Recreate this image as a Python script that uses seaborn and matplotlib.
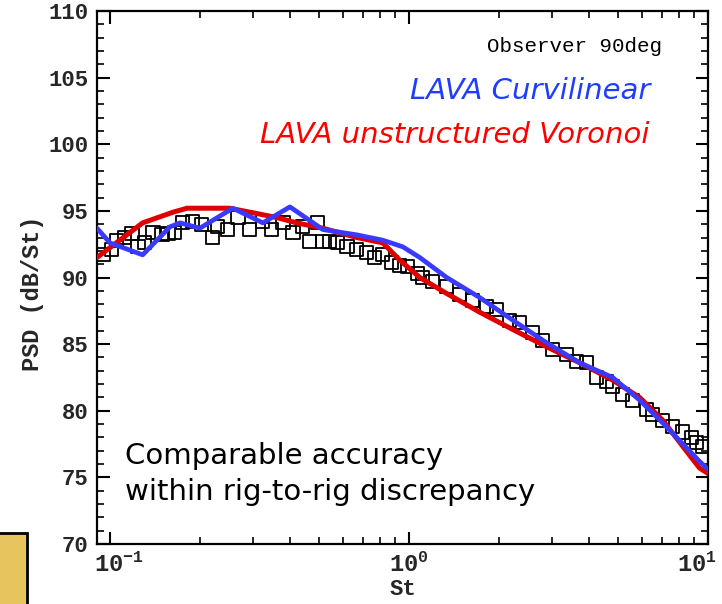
import numpy as np
import pandas as pd
import matplotlib
matplotlib.use("Agg")
import matplotlib.pyplot as plt
from matplotlib.patches import Rectangle
from matplotlib.transforms import ScaledTranslation
from matplotlib.ticker import LogLocator, MultipleLocator, NullFormatter, FixedLocator
import seaborn as sns

# Measured spectrum (squares)
exp_st = [0.0946, 0.1013, 0.1052, 0.1119, 0.1183, 0.1239, 0.1306, 0.139, 0.149, 0.156,
          0.1645, 0.175, 0.189, 0.2026, 0.2204, 0.2291, 0.2475, 0.2675, 0.2931, 0.3242,
          0.3474, 0.3784, 0.4087, 0.441, 0.4654, 0.4951, 0.5145, 0.543, 0.5777, 0.6194,
          0.6686, 0.7223, 0.7674, 0.8166, 0.8752, 0.9311, 0.9904, 1.069, 1.111, 1.200,
          1.336, 1.477, 1.633, 1.816, 1.962, 2.171, 2.345, 2.592, 2.798, 3.022,
          3.366, 3.636, 3.927, 4.24, 4.579, 4.796, 5.183, 5.6, 6.237, 6.534,
          7.057, 7.623, 8.229, 8.818, 9.169, 9.601]
exp_psd = [91.7, 92.1, 92.8, 93.0, 93.3, 92.3, 92.6, 93.4, 93.2, 93.3,
           93.4, 94.1, 94.2, 94.0, 93.0, 93.8, 93.6, 94.5, 93.6, 94.2,
           93.6, 94.1, 93.4, 93.8, 92.7, 94.1, 92.7, 92.7, 92.6, 92.3,
           92.1, 91.9, 91.5, 91.7, 91.1, 90.9, 90.8, 90.3, 90.0, 89.7,
           89.3, 88.7, 88.3, 87.8, 87.6, 86.8, 86.6, 85.9, 85.3, 84.6,
           84.2, 83.7, 83.6, 82.5, 82.2, 81.8, 81.2, 80.8, 80.1, 79.7,
           79.3, 78.8, 78.4, 78.0, 77.6, 77.3]

# LAVA curvilinear grid
curv_st = [0.0903, 0.0998, 0.1284, 0.1584, 0.1712, 0.1995, 0.2572, 0.3242, 0.3993, 0.5145,
           0.6686, 0.8166, 0.9529, 1.086, 1.336, 1.722, 2.222, 2.886, 3.722, 4.796,
           5.906, 7.047, 9.37, 10.0]
curv_psd = [93.7, 92.6, 91.7, 93.8, 94.1, 93.7, 95.2, 94.1, 95.3, 93.6,
            93.2, 92.8, 92.3, 91.5, 90.0, 88.5, 86.8, 85.1, 83.6, 82.5,
            80.8, 79.1, 76.2, 75.6]

# LAVA unstructured Voronoi grid
vor_st = [0.0903, 0.1284, 0.1622, 0.1807, 0.2512, 0.3095, 0.3609, 0.4207, 0.5145, 0.6686,
          0.8166, 0.9311, 1.086, 1.336, 1.722, 2.222, 2.886, 3.722, 4.796, 5.906,
          7.047, 9.37, 10.0]
vor_psd = [91.5, 94.1, 94.9, 95.2, 95.2, 94.8, 94.5, 94.1, 93.7, 93.0,
           92.6, 91.3, 90.0, 88.8, 87.4, 86.1, 84.8, 83.6, 82.3, 81.0,
           79.3, 75.7, 75.3]

yticks = [70, 75, 80, 85, 90, 95, 100, 105, 110]
xticks = [0.1, 1, 10]
xtick_labels = [r"$\mathregular{10^{-1}}$", r"$\mathregular{10^{0}}$", r"$\mathregular{10^{1}}$"]

sns.set_theme(style="ticks")
plt.rcParams["font.family"] = ["Liberation Mono", "DejaVu Sans Mono"]
plt.rcParams["mathtext.fontset"] = "custom"
plt.rcParams["mathtext.rm"] = "Liberation Mono:bold"

fig = plt.figure(figsize=(7.22, 6.04), dpi=100)
ax = fig.add_axes([0.1343, 0.0993, 0.8463, 0.8825])

exp_df = pd.DataFrame({"St": exp_st, "PSD": exp_psd})
curv_df = pd.DataFrame({"St": curv_st, "PSD": curv_psd})
vor_df = pd.DataFrame({"St": vor_st, "PSD": vor_psd})

sns.lineplot(data=vor_df, x="St", y="PSD", ax=ax, color="#e00000", linewidth=3.6,
             sort=False, zorder=3)
sns.lineplot(data=curv_df, x="St", y="PSD", ax=ax, color="#3a3aff", linewidth=3.4,
             sort=False, zorder=4)
sns.scatterplot(data=exp_df, x="St", y="PSD", ax=ax, marker="s", s=90,
                facecolor="none", edgecolor="black", linewidth=1.3, zorder=2)

ax.set_xscale("log")
ax.set_xlim(0.0903, 10.0)
ax.set_ylim(70, 110)

ax.xaxis.set_major_locator(FixedLocator(xticks))
ax.set_xticklabels(xtick_labels)
ax.xaxis.set_minor_locator(LogLocator(base=10, subs=np.arange(2, 10)))
ax.xaxis.set_minor_formatter(NullFormatter())
ax.yaxis.set_major_locator(FixedLocator(yticks))
ax.set_yticklabels([str(v) for v in yticks])
ax.yaxis.set_minor_locator(MultipleLocator(1))

for sp in ax.spines.values():
    sp.set_linewidth(1.6)
    sp.set_color("black")

ax.tick_params(which="both", direction="in", top=True, right=True, color="black")
ax.tick_params(which="major", length=9, width=1.5, pad=6)
ax.tick_params(axis="y", which="major", labelsize=16)
ax.tick_params(axis="x", which="major", labelsize=17)
ax.tick_params(which="minor", length=5, width=1.2)
for lbl in ax.get_yticklabels() + ax.get_xticklabels():
    lbl.set_fontweight("bold")

# nudge the outer decade labels so they stay inside the figure
xlbls = ax.get_xticklabels()
xlbls[0].set_transform(xlbls[0].get_transform() + ScaledTranslation(6 / 72, 0, fig.dpi_scale_trans))
xlbls[-1].set_transform(xlbls[-1].get_transform() + ScaledTranslation(-8 / 72, 0, fig.dpi_scale_trans))

ax.set_xlabel("St", fontsize=16, fontweight="bold", labelpad=2)
ax.set_ylabel("PSD (dB/St)", fontsize=17, fontweight="bold", labelpad=4)
ax.yaxis.set_label_coords(-0.087, 0.47)

ax.text(0.925, 0.933, "Observer 90deg", transform=ax.transAxes, ha="right", va="center",
        fontsize=15, color="black")
ax.text(0.905, 0.849, "LAVA Curvilinear", transform=ax.transAxes, ha="right", va="center",
        fontsize=21, color="#1f3cff", style="italic", family="DejaVu Sans")
ax.text(0.905, 0.768, "LAVA unstructured Voronoi", transform=ax.transAxes, ha="right",
        va="center", fontsize=21, color="#ff0000", style="italic", family="DejaVu Sans")
ax.text(0.046, 0.131, "Comparable accuracy\nwithin rig-to-rig discrepancy",
        transform=ax.transAxes, ha="left", va="center", fontsize=21, color="black",
        family="DejaVu Sans", linespacing=1.37)

fig.patches.append(Rectangle((-0.01, -0.01), 0.048, 0.127, transform=fig.transFigure,
                             facecolor="#e8c45e", edgecolor="black", linewidth=2,
                             zorder=5))

fig.savefig("out.png", dpi=100)
